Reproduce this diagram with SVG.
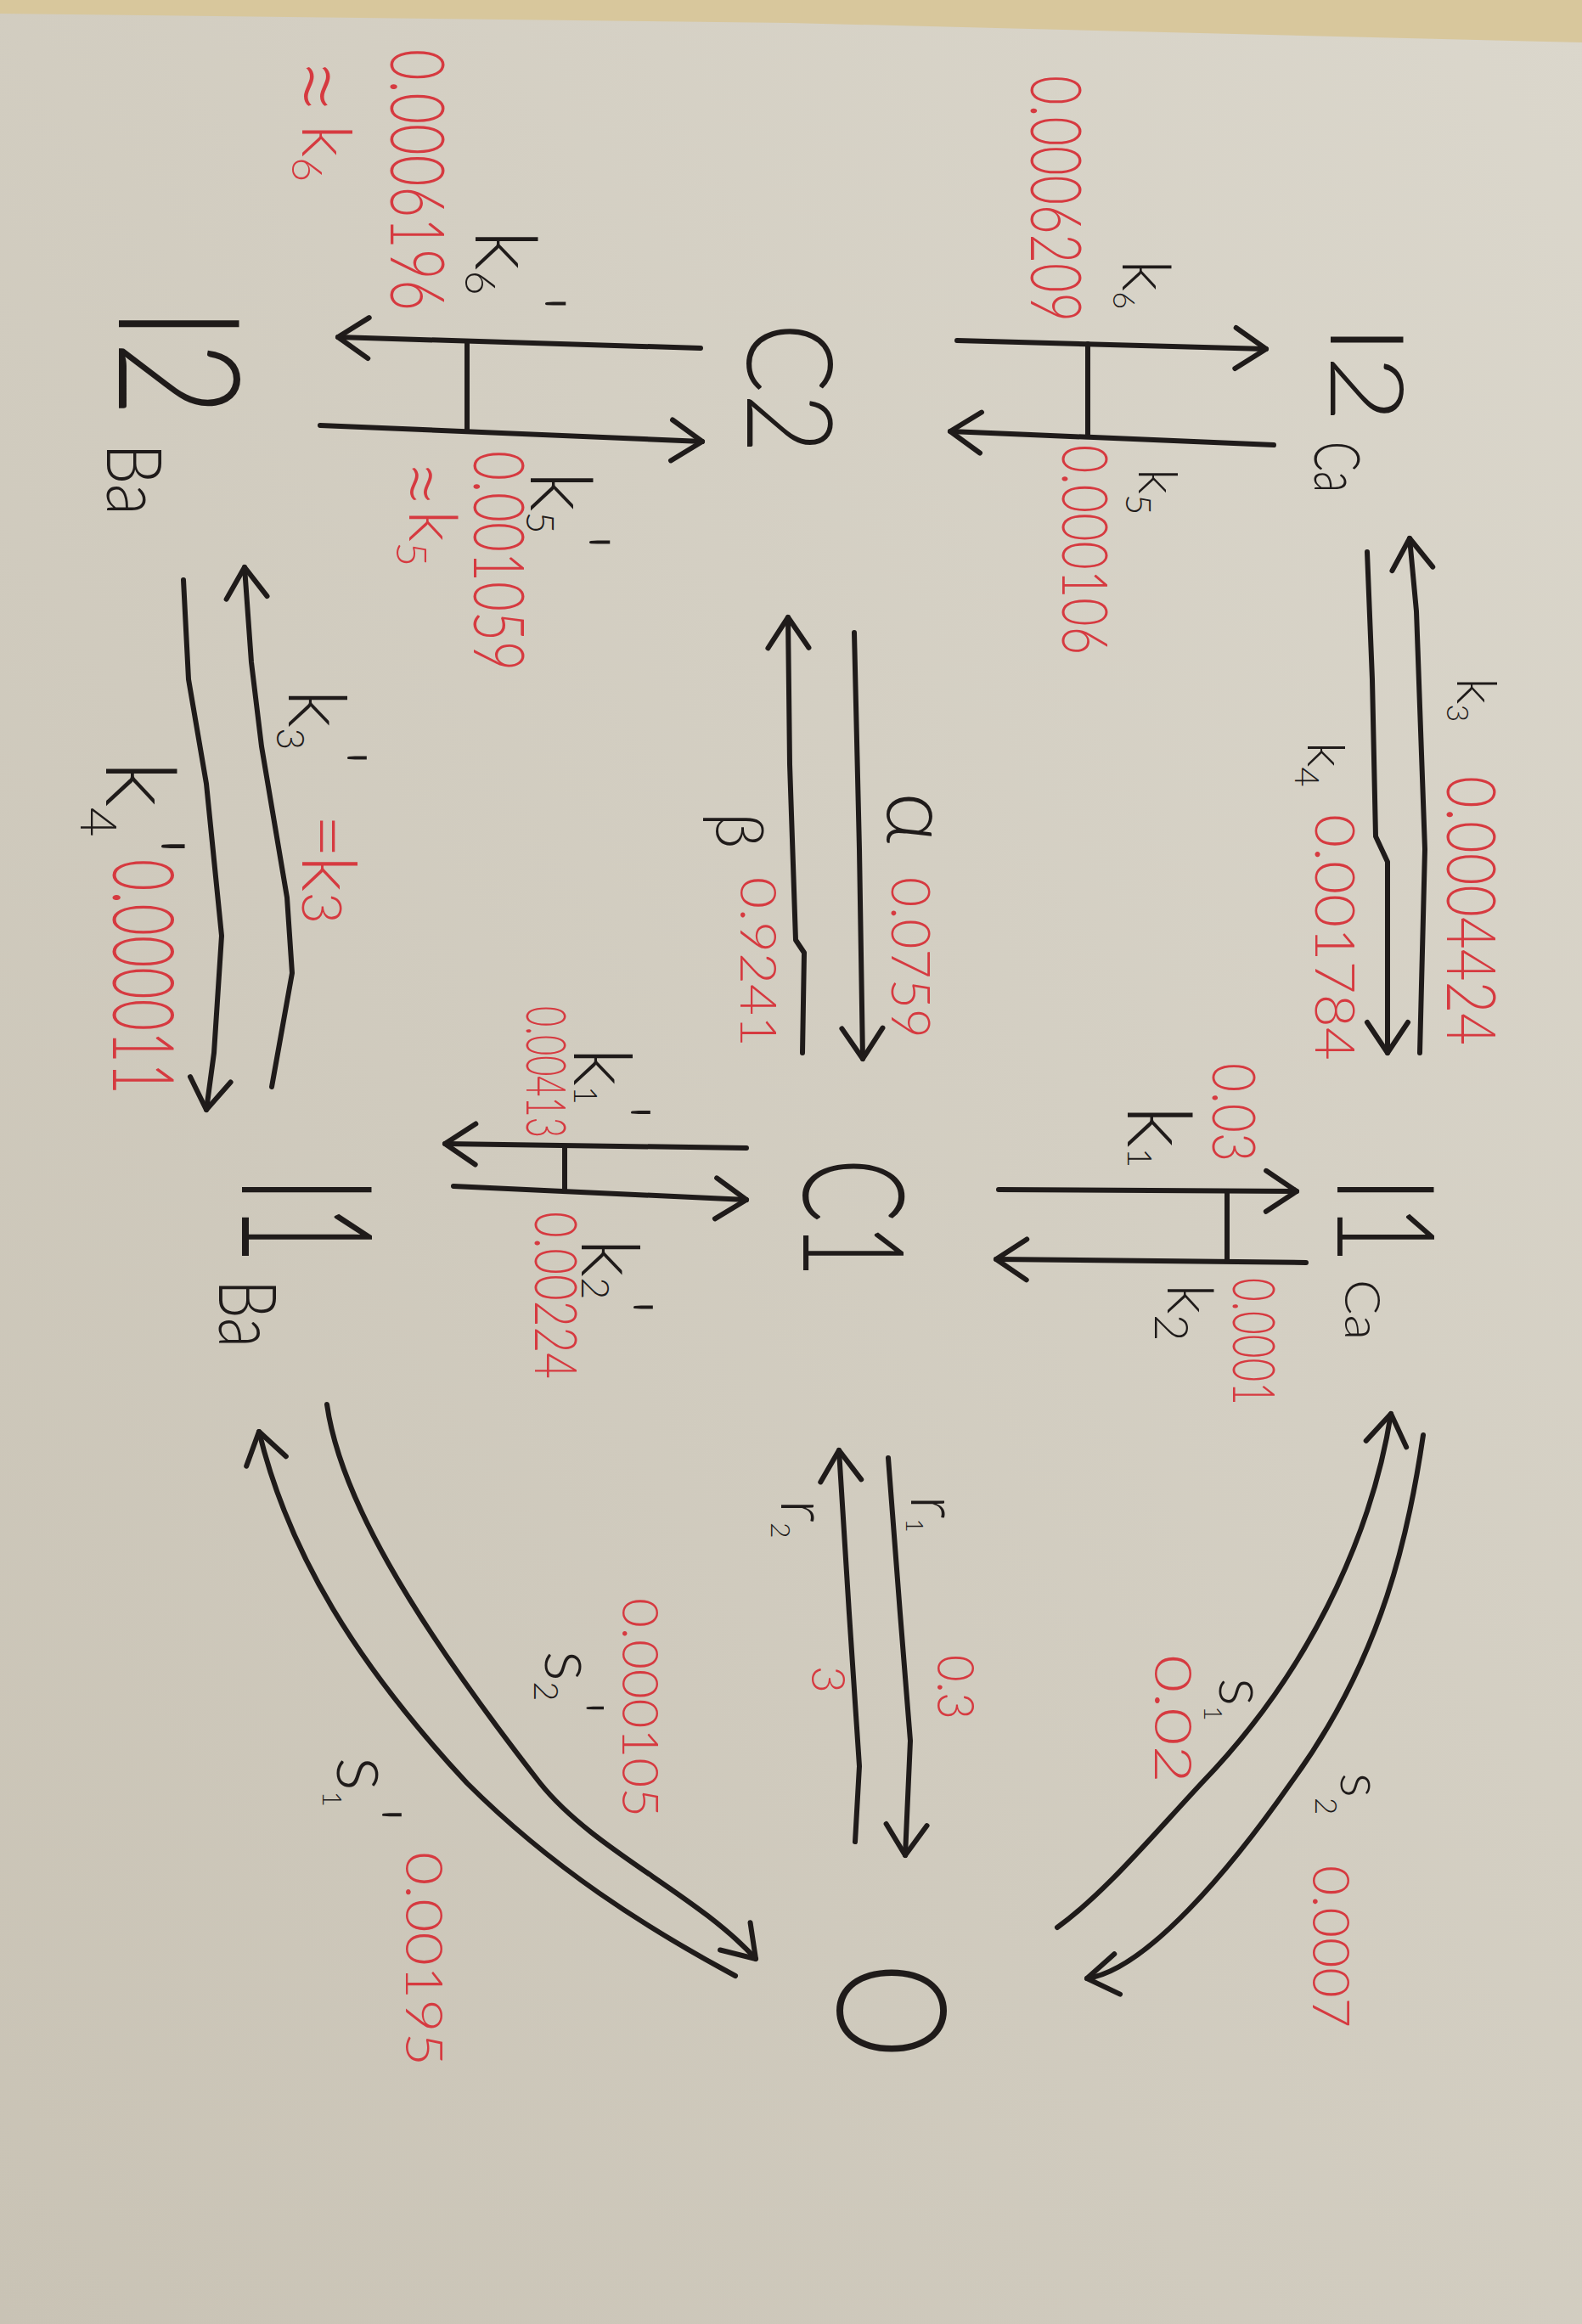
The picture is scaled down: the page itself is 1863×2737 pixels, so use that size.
<svg xmlns="http://www.w3.org/2000/svg" width="1863" height="2737" viewBox="0 0 1863 2737">
<defs>
<linearGradient id="paper" x1="1" y1="0" x2="0" y2="1">
<stop offset="0" stop-color="#dbd7cc"/>
<stop offset="1" stop-color="#c9c3b5"/>
</linearGradient>
<marker id="ah" viewBox="-45 -30 50 60" refX="0" refY="0" markerWidth="50" markerHeight="60" markerUnits="userSpaceOnUse" orient="auto">
<path d="M-36,-24 L0,0 L-36,24" fill="none" stroke="#1f1b1a" stroke-width="6" stroke-linecap="round" stroke-linejoin="round"/>
</marker>
<style>
.ink{fill:none;stroke:#1f1b1a;stroke-width:6;stroke-linecap:round;stroke-linejoin:round}
.arr{marker-end:url(#ah)}
.lbl{font-family:"Lato","Liberation Sans",sans-serif;font-weight:300;fill:#1f1b1a}
.node{font-family:"Lato","Liberation Sans",sans-serif;font-weight:300;fill:#1f1b1a}
.val{font-family:"Lato","Liberation Sans",sans-serif;font-weight:300;fill:#d63a40}
</style>
</defs>
<rect x="0" y="0" width="1863" height="2737" fill="url(#paper)"/>
<polygon points="0,0 1863,0 1863,50 930,27 0,16" fill="#d8c79c"/>

<g id="I2Ca">
<text class="node" transform="translate(1567,382) rotate(90)" font-size="120" textLength="116" lengthAdjust="spacingAndGlyphs">I2</text>
<text class="node" transform="translate(1548,520) rotate(90)" font-size="75" textLength="60" lengthAdjust="spacingAndGlyphs">Ca</text>
</g>
<g id="I1Ca">
<text class="node" transform="translate(1575,1385) rotate(90)" font-size="160" textLength="104" lengthAdjust="spacingAndGlyphs">I1</text>
<text class="node" transform="translate(1584,1507) rotate(90)" font-size="58" textLength="71" lengthAdjust="spacingAndGlyphs">Ca</text>
</g>
<g id="C2">
<text class="node" transform="translate(880,380) rotate(90)" font-size="140" textLength="154" lengthAdjust="spacingAndGlyphs">C2</text>
</g>
<g id="C1">
<text class="node" transform="translate(946,1364) rotate(90)" font-size="165" textLength="141" lengthAdjust="spacingAndGlyphs">C1</text>
</g>
<g id="I2Ba">
<text class="node" transform="translate(140,361) rotate(90)" font-size="200" textLength="130" lengthAdjust="spacingAndGlyphs">I2</text>
<text class="node" transform="translate(126,522) rotate(90)" font-size="90" textLength="85" lengthAdjust="spacingAndGlyphs">Ba</text>
</g>
<g id="I1Ba">
<text class="node" transform="translate(285,1385) rotate(90)" font-size="215" textLength="104" lengthAdjust="spacingAndGlyphs">I1</text>
<text class="node" transform="translate(258,1507) rotate(90)" font-size="95" textLength="80" lengthAdjust="spacingAndGlyphs">Ba</text>
</g>
<g id="O">
<text class="node" transform="translate(986,2311) rotate(90)" font-size="180" textLength="114" lengthAdjust="spacingAndGlyphs">O</text>
</g>

<g id="connectors">
<path class="ink arr" d="M1672,1240 L1678,1000 L1668,720 L1660,634"/>
<path class="ink arr" d="M1610,650 L1616,800 L1620,985 L1634,1015 L1634,1240"/>
<path class="ink arr" d="M1127,401 L1491,411"/>
<path class="ink arr" d="M1500,524 L1119,508"/>
<path class="ink" d="M1281,405 L1281,514"/>
<path class="ink arr" d="M825,410 L398,397"/>
<path class="ink arr" d="M377,501 L827,520"/>
<path class="ink" d="M550,403 L550,508"/>
<path class="ink arr" d="M1006,745 L1012,1000 L1016,1247"/>
<path class="ink arr" d="M945,1240 L947,1122 L937,1107 L930,900 L928,727"/>
<path class="ink arr" d="M1176,1401 L1527,1403"/>
<path class="ink arr" d="M1538,1487 L1173,1483"/>
<path class="ink" d="M1445,1403 L1445,1485"/>
<path class="ink arr" d="M879,1352 L524,1347"/>
<path class="ink arr" d="M534,1397 L879,1413"/>
<path class="ink" d="M665,1350 L665,1403"/>
<path class="ink arr" d="M320,1280 L344,1146 L338,1057 L308,879 L296,780 L288,668"/>
<path class="ink arr" d="M216,683 L222,800 L243,923 L261,1102 L252,1240 L243,1307"/>
<path class="ink arr" d="M1046,1717 L1060,1900 L1072,2050 L1066,2185"/>
<path class="ink arr" d="M1007,2169 L1012,2080 L1000,1900 L988,1708"/>
<path class="ink arr" d="M1245,2270 C1300,2230 1350,2170 1415,2100 C1560,1950 1620,1780 1638,1665"/>
<path class="ink arr" d="M1676,1690 C1660,1800 1630,1950 1520,2100 C1450,2200 1350,2320 1280,2330"/>
<path class="ink arr" d="M866,2327 C760,2270 650,2200 550,2100 C420,1960 340,1830 305,1686"/>
<path class="ink arr" d="M385,1654 C400,1760 480,1900 636,2100 C700,2180 820,2230 890,2307"/>
</g>

<g id="labels">
<text class="lbl" transform="translate(1716,798) rotate(90)" font-size="66">k<tspan dy="12" font-size="36">3</tspan></text>
<text class="val" transform="translate(1704,914) rotate(90)" font-size="80" textLength="317" lengthAdjust="spacingAndGlyphs">0.0004424</text>
<text class="lbl" transform="translate(1540,874) rotate(90)" font-size="62">k<tspan dy="15" font-size="40">4</tspan></text>
<text class="val" transform="translate(1549,959) rotate(90)" font-size="66" textLength="290" lengthAdjust="spacingAndGlyphs">0.001784</text>

<text class="lbl" transform="translate(1322,306) rotate(90)" font-size="78">k<tspan dy="11" font-size="36">6</tspan></text>
<text class="val" transform="translate(1214,89) rotate(90)" font-size="82" textLength="290" lengthAdjust="spacingAndGlyphs">0.0006209</text>
<text class="lbl" transform="translate(1341,552) rotate(90)" font-size="63">k<tspan dy="15" font-size="42">5</tspan></text>
<text class="val" transform="translate(1251,524) rotate(90)" font-size="75" textLength="247" lengthAdjust="spacingAndGlyphs">0.000106</text>

<text class="lbl" transform="translate(560,271) rotate(90)" font-size="100">k<tspan dy="12" font-size="50">6</tspan><tspan dy="-47" font-size="100">'</tspan></text>
<text class="val" transform="translate(460,58) rotate(90)" font-size="88" textLength="308" lengthAdjust="spacingAndGlyphs">0.0006196</text>
<text class="val" transform="translate(356,67) rotate(90)"><tspan font-size="120" dy="23">≈ </tspan><tspan x="80" dy="-23" font-size="80">k</tspan><tspan dy="12" font-size="50">6</tspan></text>
<text class="lbl" transform="translate(625,555) rotate(90)" font-size="100">k<tspan dy="5" font-size="45">5</tspan><tspan dy="-27" font-size="100">'</tspan></text>
<text class="val" transform="translate(558,531) rotate(90)" font-size="82" textLength="259" lengthAdjust="spacingAndGlyphs">0.001059</text>
<text class="val" transform="translate(482,541) rotate(90)"><tspan font-size="100" dy="20">≈ </tspan><tspan x="60" dy="-20" font-size="78">k</tspan><tspan dy="15" font-size="50">5</tspan></text>

<text class="lbl" transform="translate(1045,933) rotate(90)" font-size="105">α</text>
<text class="val" transform="translate(1050,1033) rotate(90)" font-size="64" textLength="190" lengthAdjust="spacingAndGlyphs">0.0759</text>
<text class="lbl" transform="translate(843,957) rotate(90)" font-size="78">β</text>
<text class="val" transform="translate(872,1033) rotate(90)" font-size="60" textLength="200" lengthAdjust="spacingAndGlyphs">0.9241</text>

<text class="lbl" transform="translate(340,812) rotate(90)" font-size="95">k<tspan dy="14" font-size="45">3</tspan><tspan dy="-39" font-size="95">'</tspan></text>
<text class="val" transform="translate(356,959) rotate(90)" font-size="89"><tspan>= </tspan><tspan x="49">k</tspan><tspan font-size="65">3</tspan></text>
<text class="lbl" transform="translate(125,896) rotate(90)" font-size="115">k<tspan dy="30" font-size="60">4</tspan><tspan dy="-41" font-size="115">'</tspan></text>
<text class="val" transform="translate(133,1012) rotate(90)" font-size="100" textLength="277" lengthAdjust="spacingAndGlyphs">0.000011</text>

<text class="lbl" transform="translate(1328,1302) rotate(90)" font-size="105">k<tspan dy="0" font-size="40">1</tspan></text>
<text class="val" transform="translate(1428,1252) rotate(90)" font-size="70" textLength="116" lengthAdjust="spacingAndGlyphs">0.03</text>
<text class="lbl" transform="translate(1375,1512) rotate(90)" font-size="75">k<tspan dy="15" font-size="55">2</tspan></text>
<text class="val" transform="translate(1452,1505) rotate(90)" font-size="68" textLength="150" lengthAdjust="spacingAndGlyphs">0.0001</text>

<text class="lbl" transform="translate(676,1234) rotate(90)" font-size="95">k<tspan dy="0" font-size="37">1</tspan><tspan dy="-23" font-size="95">'</tspan></text>
<text class="val" transform="translate(620,1185) rotate(90)" font-size="66" textLength="155" lengthAdjust="spacingAndGlyphs">0.00413</text>
<text class="lbl" transform="translate(685,1459) rotate(90)" font-size="95">k<tspan dy="0" font-size="45">2</tspan><tspan dy="-17" font-size="95">'</tspan></text>
<text class="val" transform="translate(630,1427) rotate(90)" font-size="68" textLength="197" lengthAdjust="spacingAndGlyphs">0.00224</text>

<text class="lbl" transform="translate(1073,1761) rotate(90)" font-size="78">r<tspan dy="6" font-size="28">1</tspan></text>
<text class="val" transform="translate(1104,1949) rotate(90)" font-size="62" textLength="76" lengthAdjust="spacingAndGlyphs">0.3</text>
<text class="lbl" transform="translate(920,1766) rotate(90)" font-size="76">r<tspan dy="12" font-size="32">2</tspan></text>
<text class="val" transform="translate(956,1962) rotate(90)" font-size="55">3</text>

<text class="lbl" transform="translate(1436,1976) rotate(90)" font-size="78">s<tspan dy="18" font-size="30">1</tspan></text>
<text class="val" transform="translate(1360,1949) rotate(90)" font-size="62" textLength="151" lengthAdjust="spacingAndGlyphs">0.02</text>
<text class="lbl" transform="translate(1579,2088) rotate(90)" font-size="68">s<tspan dy="30" font-size="35">2</tspan></text>
<text class="val" transform="translate(1546,2197) rotate(90)" font-size="62" textLength="191" lengthAdjust="spacingAndGlyphs">0.0007</text>

<text class="lbl" transform="translate(642,1944) rotate(90)" font-size="85">s<tspan dy="13" font-size="40">2</tspan><tspan dy="-22" font-size="85">'</tspan></text>
<text class="val" transform="translate(733,1882) rotate(90)" font-size="60" textLength="258" lengthAdjust="spacingAndGlyphs">0.000105</text>
<text class="lbl" transform="translate(397,2069) rotate(90)" font-size="95">s<tspan dy="17" font-size="32">1</tspan><tspan dy="-26" font-size="95">'</tspan></text>
<text class="val" transform="translate(478,2181) rotate(90)" font-size="62" textLength="252" lengthAdjust="spacingAndGlyphs">0.00195</text>
</g>
</svg>
